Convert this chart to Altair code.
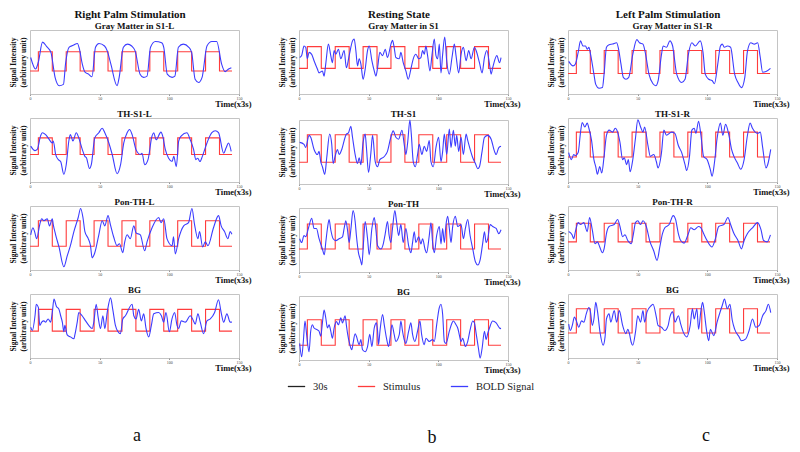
import altair as alt
import pandas as pd

FONT = "Liberation Serif"

column_titles = ["Right Palm Stimulation", "Resting State", "Left Palm Stimulation"]
column_letters = ["a", "b", "c"]
letter_dx = [7, 33, 38]
panel_titles = [
    ["Gray Matter in S1-L", "TH-S1-L", "Pon-TH-L", "BG"],
    ["Gray Matter in S1", "TH-S1", "Pon-TH", "BG"],
    ["Gray Matter in S1-R", "TH-S1-R", "Pon-TH-R", "BG"],
]
legend_labels = ["30s", "Stimulus", "BOLD Signal"]
legend_colors = ["#222222", "#ff3c3c", "#3c3cff"]
x_ticks = [0, 50, 100, 150]

# stimulus block design (time in units of 3 s)
stim_edges = [0, 6, 16, 26, 36, 46, 56, 66, 76, 86, 96, 106, 116, 126, 136, 145]
stim_on = [0, 1, 0, 1, 0, 1, 0, 1, 0, 1, 0, 1, 0, 1, 0, 0]

# stimulus low / high level per panel (arbitrary units, 0-100 of panel)
stim_levels = [
    [(36, 66), (43, 69), (37, 77), (42, 76)],
    [(40, 74), (34, 77), (36, 75), (23, 63)],
    [(32, 68), (39, 78), (44, 73), (39, 77)],
]

# BOLD signal (time, value)
rp_gm = [(0.5,57),(4,39),(6,50),(9,81),(12,74),(15,65),(18,26),(21,13),(24,15),(25.5,47),(28,73),(31,76),(34,79),(35.5,70),(37.5,47),(39.5,34),(42,31),(44.5,27),(47,73),(49.5,79),(53.5,75),(55.5,67),(58,47),(62.5,13),(64,26),(67,73),(70,78),(73,75),(75.5,67),(79,31),(81.5,26),(84,28),(86.5,73),(90,82),(94.5,80),(96,73),(98.5,31),(102,26),(104,28),(106.5,73),(110,78),(114,73),(116,65),(118.5,23),(121,18),(123.5,26),(127,75),(130.5,82),(134,82),(137.5,47),(140,35),(142.5,39),(144.5,41)]
rp_th = [(0.5,56),(3.6,49),(5.2,51),(7.6,72),(8.8,77),(11.2,74),(13,69),(16,61),(16.7,64),(18.4,43),(20.3,35),(22,32),(24.3,12),(26,27),(28,66),(29,74),(30.8,64),(33.2,77),(35,69),(37.5,51),(39.4,40),(40.5,38),(42.7,21),(44,27),(46.5,69),(49.4,77),(51.8,84),(53.7,77),(56.6,61),(59,43),(62.5,13),(65,27),(67.3,61),(69.7,77),(71.4,82),(73.3,74),(76,51),(79.2,43),(80.4,45),(82.3,27),(84.7,35),(87.6,72),(88.8,77),(90.5,66),(94,78),(95.2,72),(97.1,51),(99.5,37),(102,32),(103.2,40),(105,24),(106.7,64),(108.6,72),(112.6,77),(115,66),(117.4,51),(119,35),(120.4,37),(122,32),(123.7,40),(127,61),(130.5,77),(133,80),(135.3,77),(139,45),(140.7,53),(142.5,61),(144.4,48)]
rp_pon = [(0.5,55),(2.1,66),(3.3,60),(4.8,49),(7,71),(8.4,80),(10,77),(12.4,80),(14,69),(16,80),(16.7,71),(18.4,55),(20.8,36),(24.3,5),(26.7,22),(29,38),(31.5,60),(34.6,82),(36.3,96),(38,82),(39.4,60),(41.8,49),(43.4,38),(44.6,19),(46.5,27),(49.4,55),(51.8,77),(53.7,69),(56,85),(57.7,71),(60,52),(62.5,38),(64.2,41),(66.6,27),(68,44),(69.7,55),(72,49),(74.5,69),(76.1,58),(79.2,55),(82.3,30),(84,44),(87.6,66),(92.4,82),(94,74),(96,80),(98.3,49),(102,38),(103,52),(104.3,25),(106.7,49),(110.3,69),(113.8,74),(116.2,96),(118.1,71),(120.5,49),(121.7,60),(123.9,36),(125.8,44),(127.7,38),(131.7,66),(135.3,85),(137.2,69),(139.6,60),(142,49),(143.7,60),(144.9,56)]
rp_bg = [(0.5,48),(1.7,43),(3.6,66),(4.5,84),(6,79),(7,51),(8.4,56),(10,58),(11.2,56),(13,61),(14.8,56),(16,71),(17.2,92),(18.9,81),(20.8,76),(22,66),(23.2,56),(24.3,41),(25,51),(26.7,36),(29,33),(31.5,30),(32.2,36),(33.9,56),(35,71),(37.4,66),(39.9,58),(42.2,51),(44.6,46),(45.8,56),(47.5,84),(48.9,64),(50.6,46),(52.3,66),(53.7,46),(55.4,71),(57.8,94),(59.4,76),(61.3,51),(63.2,41),(64.9,38),(66.6,61),(68.5,66),(73.3,84),(74.5,66),(76.1,61),(78,76),(79.9,58),(81.6,69),(83.3,46),(85.2,33),(87.1,51),(88.8,69),(92.4,71),(94.3,66),(95.9,56),(97.6,71),(100,41),(101.9,61),(103.8,71),(105.5,51),(106.7,46),(108.6,58),(111.5,56),(115,66),(116.7,61),(118.6,53),(120.5,69),(122.2,56),(124.6,38),(127,58),(129.4,61),(132.5,71),(135.3,91),(137.2,71),(139,56),(141.3,69),(143.7,56),(144.9,56)]

rs_gm = [(0.5,57),(1.9,60),(3.6,75),(4.8,73),(6,55),(7.2,65),(9.1,62),(10.8,52),(13.2,39),(14.4,33),(16.8,36),(18,28),(19.2,47),(21.1,78),(22.8,60),(24,49),(25.2,68),(26.4,62),(28.3,70),(30,55),(32.4,68),(34,41),(36,60),(38.4,83),(39.6,86),(40.8,68),(42,44),(43.2,55),(44.4,47),(46,23),(47.5,39),(49.2,68),(50.4,75),(52.3,52),(54,36),(55.2,28),(56.4,41),(58,65),(60,60),(61.9,70),(63.5,57),(66,78),(67.1,84),(68.3,73),(69.5,57),(72,55),(73.1,65),(74.8,49),(76.7,36),(78.4,23),(80.3,39),(82,55),(83.9,62),(85.9,55),(87.5,57),(88.7,68),(89.9,62),(91.1,75),(92.3,60),(94,36),(95.4,60),(97.1,86),(98.3,60),(99.5,55),(100.7,78),(101.9,33),(103.1,62),(104.6,89),(106,52),(107.9,31),(109.8,57),(111.5,78),(112.7,60),(114.6,33),(116.3,62),(118,73),(119.9,52),(121.8,68),(123.5,55),(125.9,73),(127.1,68),(129.5,49),(131.4,33),(133.1,57),(134.8,68),(136.7,47),(137.9,31),(139,41),(142,60),(143.9,49),(145,57)]
rs_th = [(0.5,65),(3.6,62),(4.8,57),(7.2,76),(8.4,73),(10.8,54),(13.2,46),(14.4,51),(15.6,35),(16.8,27),(18.5,15),(19.9,41),(22,78),(23.5,62),(24.5,32),(25.9,43),(27.6,54),(28.8,46),(30.7,54),(33.1,73),(34,78),(35.5,80),(37.2,90),(38.4,73),(40.3,46),(42,32),(43.2,41),(44.4,30),(46,65),(47.5,78),(48.4,57),(49.9,18),(51.6,49),(52.8,76),(54.7,35),(56.4,27),(58,38),(61.2,43),(63.5,51),(65.9,73),(67.6,83),(69.5,73),(71.5,70),(73.9,84),(75.5,62),(76.7,46),(78,65),(79.6,100),(80.6,78),(82,35),(83.5,27),(85.1,46),(86.3,62),(88.2,46),(89.9,59),(91.6,51),(93.5,68),(94.7,35),(96.4,27),(98.3,57),(100.2,73),(101.9,35),(103.1,51),(104.3,78),(106,46),(107.9,86),(109.1,57),(110.8,84),(112.2,59),(113.2,76),(114.6,51),(116.3,73),(118,46),(119.9,78),(121.1,68),(124.7,41),(126.6,32),(128.3,24),(129.5,27),(131.4,51),(133.1,73),(135.5,76),(137.9,70),(140.3,51),(141.5,46),(143.4,57),(145,59)]
rs_pon = [(0.5,52),(1.9,46),(3.6,57),(4.8,55),(6.7,68),(9.1,84),(10.8,68),(12.5,68),(14.4,52),(16.8,36),(18.2,27),(19.2,46),(20.4,68),(21.6,82),(22.8,66),(24.5,52),(26.4,49),(28.8,52),(31.2,55),(32.4,68),(33.6,80),(34.8,66),(36,46),(37.2,66),(38.8,96),(40.3,79),(41.2,57),(42.7,30),(44.1,19),(45.1,11),(46.3,46),(47.5,79),(49.2,52),(50.4,27),(52.3,68),(54,85),(55.2,66),(56.4,41),(58.8,36),(60.5,44),(61.9,60),(63.5,79),(64.7,57),(65.9,46),(67.1,68),(68.8,96),(70,79),(71.5,57),(73.1,74),(74.8,46),(76.7,68),(78.7,41),(80.3,30),(81.5,46),(82.7,63),(83.9,46),(85.9,55),(87.5,44),(88.7,52),(90.4,36),(91.6,30),(93.5,57),(94.7,77),(95.9,46),(97.1,30),(98.8,57),(100.7,71),(101.9,44),(103.1,68),(104.3,46),(105.5,74),(106.7,87),(107.9,68),(109.1,46),(110.3,71),(112.2,87),(113.9,71),(116.3,74),(118,52),(119.4,68),(121.1,82),(122.8,57),(124.7,36),(126.6,16),(128.3,11),(130,19),(131.9,46),(133.1,63),(134.3,46),(135.5,52),(137.2,74),(139,71),(141.5,68),(143.4,60),(145,66)]
rs_bg = [(0.5,26),(1.9,5),(3.1,29),(4.3,61),(5.5,39),(7.2,13),(8.4,45),(9.6,55),(10.8,50),(13.2,47),(14.4,45),(15.6,37),(16.8,58),(18,78),(19.2,66),(20.4,50),(21.6,55),(22.8,45),(24,34),(25.2,50),(26.9,60),(28.3,55),(30,66),(31.2,58),(33.1,69),(34.1,53),(34.8,42),(36.5,24),(37.9,16),(38.8,26),(40.3,41),(41.2,37),(43.2,24),(44.4,32),(45.6,16),(47.5,13),(49.2,21),(50.8,40),(52.3,21),(54,50),(55.6,58),(56.4,45),(57.1,24),(58.1,45),(60,71),(61.2,55),(62.8,34),(64.3,21),(65.5,37),(66.7,55),(68.3,40),(69.5,29),(72,40),(73.1,61),(74.3,45),(75.5,32),(76.7,26),(78.7,45),(80.3,58),(81.5,40),(83.2,29),(85.1,45),(86.8,61),(88,40),(89.9,24),(91.1,34),(93.5,29),(95.9,32),(97.1,29),(98.8,55),(100.7,82),(101.9,87),(103.1,71),(104.3,29),(105.5,26),(107.9,45),(109.8,58),(110.8,61),(112.7,55),(113.9,50),(115.1,39),(116.3,29),(117.5,34),(119.4,21),(121.1,29),(122.8,47),(124.7,61),(125.9,58),(127.1,42),(128.8,18),(130,3),(131.4,18),(133.1,45),(134.3,32),(135.5,42),(136.7,50),(139,61),(141.5,58),(143.9,50),(145,49)]

lp_gm = [(0.5,51),(3.6,44),(5.3,47),(7.3,65),(9,83),(10.7,75),(12.6,75),(13.8,70),(15,73),(16.2,62),(18.6,31),(19.9,15),(22.3,9),(24.7,10),(25.9,31),(27.6,73),(29.5,77),(32,78),(34.9,80),(36.3,70),(38,47),(39.7,26),(41.6,23),(43.6,26),(46.5,62),(49.4,85),(51.3,80),(53.8,78),(55.7,62),(58.1,31),(61,16),(63,13),(64.7,21),(67.1,62),(68.3,75),(70.7,73),(73.1,83),(75.1,75),(76.1,60),(78,31),(81.6,18),(84,23),(86.4,62),(88.9,80),(91.3,75),(94.9,83),(96.9,65),(98.5,31),(101,23),(103.4,21),(105.1,16),(107.5,47),(109.4,75),(110.7,78),(112.3,73),(114.3,75),(116.7,73),(119.6,31),(122,18),(124.5,10),(126.9,26),(128.8,67),(131.2,80),(133.7,78),(136.1,80),(138,57),(139.7,34),(142.1,35),(145.3,40)]
lp_th = [(0.5,46),(2.4,35),(4.1,43),(5.3,41),(7.3,46),(9,78),(10.2,93),(12.1,86),(13.8,92),(15,84),(16.9,65),(18.6,35),(19.9,24),(21.1,12),(22.8,24),(24.2,14),(25.9,40),(27.6,73),(29.5,81),(32,78),(33.9,84),(35.6,78),(37.3,62),(39.2,35),(40.4,38),(42.1,27),(43.3,35),(44.6,16),(46.5,35),(48.4,68),(50.1,97),(52.1,86),(53.8,78),(55,86),(57.4,57),(59.1,40),(61.5,43),(63.4,32),(64.6,22),(67.1,46),(68.8,81),(70.7,73),(74.3,78),(76.7,76),(79.2,57),(81.6,46),(84,27),(85.2,18),(87.2,40),(88.9,81),(90.6,84),(91.8,76),(93.7,95),(95.4,73),(97.3,40),(99.8,35),(102.2,19),(103.4,9),(105.1,30),(107,68),(109.4,92),(111.1,73),(113.1,90),(115.5,73),(117.4,51),(119.1,40),(121.5,30),(124,20),(126.4,35),(128.8,73),(130.7,92),(132.4,84),(136.1,76),(138,78),(139.7,54),(142.1,22),(143.3,27),(145.5,51)]
lp_pon = [(0.5,60),(2.9,55),(4.1,49),(5.3,60),(7.3,74),(9,71),(11.4,74),(13.8,60),(15.5,82),(17.4,63),(19.4,41),(21.1,44),(22.8,36),(24.7,27),(25.9,33),(27.6,57),(29.5,68),(33.2,71),(35.6,79),(37.3,68),(39.2,52),(40.9,55),(42.9,46),(45.3,41),(47,57),(48.4,74),(50.1,77),(52.1,71),(53.8,77),(56.2,68),(58.6,46),(61.5,30),(63.9,15),(65.9,36),(67.8,57),(69.5,66),(72.6,71),(75.5,85),(77.2,79),(79.2,57),(80.9,46),(83.3,42),(86.4,57),(88.1,66),(90.6,63),(93.7,68),(95.4,66),(97.3,57),(99.8,46),(103.4,36),(105.8,49),(108.2,68),(111.9,71),(114.8,82),(116.7,71),(119.1,57),(122,46),(124.5,33),(126.4,46),(128.8,57),(132.4,66),(136.1,74),(138.5,63),(140.4,46),(142.9,44),(145.3,55)]
lp_bg = [(0.5,53),(1.7,43),(3.1,51),(4.6,64),(6,58),(7.7,48),(9.7,58),(11.4,56),(13.1,69),(15,79),(16.2,71),(17.4,51),(18.6,61),(19.9,87),(21.1,74),(23,40),(25.2,20),(26.6,33),(27.6,61),(29.5,69),(30.7,56),(33.2,74),(34.9,56),(36.8,74),(39.2,51),(41.6,38),(42.9,45),(44.1,38),(45.3,25),(46.5,20),(48.4,40),(50.1,66),(52.1,56),(53.8,74),(55,56),(56.7,72),(59.8,82),(61,84),(63.4,64),(64.6,51),(67.1,48),(69.5,43),(71.9,51),(73.1,64),(75.1,72),(76.8,56),(79.2,66),(80.9,53),(82.8,40),(85.2,33),(87.7,51),(89.3,77),(90.6,61),(92.5,77),(93.7,45),(95.4,74),(96.6,87),(97.8,72),(99.3,45),(101,27),(102.2,45),(104.6,35),(107,56),(110.7,82),(112.3,92),(114.3,77),(116.2,84),(117.9,59),(119.6,45),(122.8,33),(124.5,27),(127.6,30),(130,43),(132.4,61),(134.8,48),(137.3,51),(139.7,66),(142.1,74),(143.8,84),(145.5,71)]

bold_series = [
    [rp_gm, rp_th, rp_pon, rp_bg],
    [rs_gm, rs_th, rs_pon, rs_bg],
    [lp_gm, lp_th, lp_pon, lp_bg],
]

PW, PH = 209, 64

color_enc = alt.Color(
    "series:N",
    scale=alt.Scale(domain=legend_labels, range=legend_colors),
    legend=alt.Legend(
        orient="none", legendX=257, legendY=347, direction="horizontal",
        title=None, symbolType="stroke", symbolSize=300, symbolStrokeWidth=1.3,
        labelFont=FONT, labelFontSize=10.5, labelColor="#222222",
        columnPadding=27, labelOffset=7,
    ),
)


def panel(title, pts, lo, hi):
    df_b = pd.DataFrame(pts, columns=["t", "v"])
    df_b["series"] = "BOLD Signal"
    df_s = pd.DataFrame({
        "t": stim_edges,
        "v": [hi if s else lo for s in stim_on],
        "series": "Stimulus",
    })
    x = alt.X("t:Q", scale=alt.Scale(domain=[0, 150], nice=False),
              axis=alt.Axis(values=x_ticks, title="Time(x3s)", labelFontSize=4,
                            labelFont=FONT, labelColor="#444444", labelPadding=0.5,
                            labelFlush=False, tickSize=1.5, tickColor="#999999",
                            domain=False, grid=False,
                            titleFont=FONT, titleFontSize=8.5, titleFontWeight="bold",
                            titleX=PW + 12, titleY=9.5, titleAlign="right",
                            titleBaseline="middle", titleColor="#111111"))
    y = alt.Y("v:Q", scale=alt.Scale(domain=[0, 100], nice=False),
              axis=alt.Axis(title=["Signal Intensity", "(arbitrary unit)"], labels=False,
                            ticks=False, domain=False, grid=False,
                            titleFont=FONT, titleFontSize=7.5, titleFontWeight="bold",
                            titleLineHeight=10, titlePadding=3, titleColor="#111111"))
    stim = alt.Chart(df_s).mark_line(interpolate="step-after", strokeWidth=1.1).encode(
        x=x, y=y, color=color_enc)
    bold = alt.Chart(df_b).mark_line(interpolate="monotone", strokeWidth=1.1).encode(
        x=x, y=y, color=color_enc)
    return alt.layer(stim, bold).properties(
        width=PW, height=PH,
        title=alt.TitleParams(title, font=FONT, fontSize=9, fontWeight="bold",
                              offset=-1, frame="group", anchor="middle",
                              color="#111111"),
    )


columns = []
for ci in range(3):
    panels = [panel(panel_titles[ci][ri], bold_series[ci][ri], *stim_levels[ci][ri])
              for ri in range(4)]
    col = alt.vconcat(*panels, spacing=0).properties(
        title=alt.TitleParams(column_titles[ci], font=FONT, fontSize=11,
                              fontWeight="bold", offset=2, anchor="middle",
                              color="#111111"))
    wrapped = alt.vconcat(col).properties(
        title=alt.TitleParams(column_letters[ci], orient="bottom", font=FONT,
                              fontSize=18, fontWeight="normal", offset=54,
                              anchor="middle", dx=letter_dx[ci], color="#111111"))
    columns.append(wrapped)

chart = alt.hconcat(*columns, spacing=25).properties(
    padding={"left": 0, "top": 0, "right": 0, "bottom": 0}
).configure(
    background="white", font=FONT
).configure_view(stroke="#c4c4c4", strokeWidth=1).configure_legend(
    labelFont=FONT, labelFontSize=10.5
)

chart.save("out.html", embed_options={"renderer": "svg", "actions": False})
